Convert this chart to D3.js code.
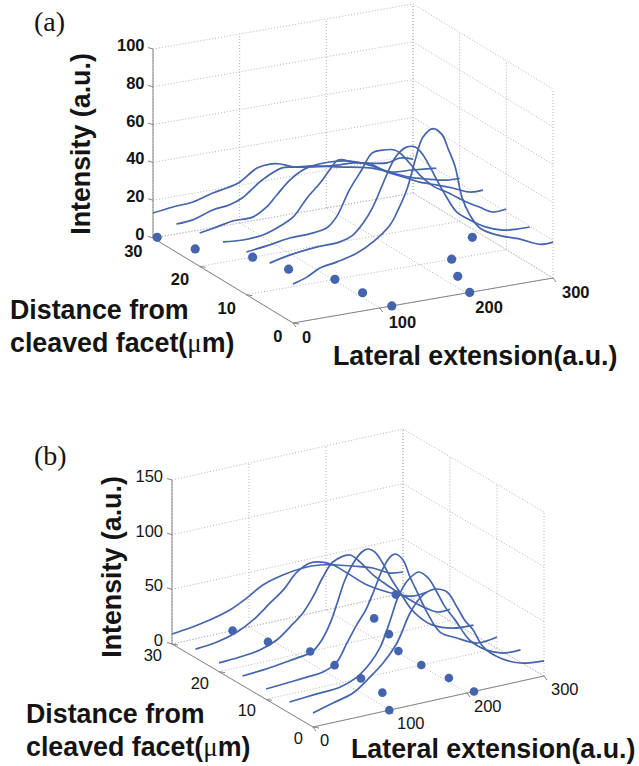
<!DOCTYPE html>
<html>
<head>
<meta charset="utf-8">
<script src="https://cdn.jsdelivr.net/npm/d3@7"></script>
<style>
  html, body { margin: 0; background: #fff; }
  text { font-family: "Liberation Sans", Arial, sans-serif; fill: #141414; }
</style>
</head>
<body>
<svg id="chart" width="639" height="766"></svg>
<script>
// Distance of each trace from the facet, back to front
const distances = [30, 25, 20, 15, 10, 5, 0];

// Panel (a): [lateral, intensity]
const a30 = [[0,13.2],[23,14.6],[46,15.4],[69,18.3],[85,19.7],[100,21.6],[120,27.5],[135,28.4],[147,27.5],[162,24.8],[185,22.9],[212,21.7],[231,21.4],[270,18.3],[285,19.7],[300,17.9]];
const a25 = [[0,14.9],[19,15.6],[42,19],[61,20.1],[76,22.6],[99,30.3],[122,34.9],[138,34],[157,33.2],[185,30.4],[223,26.9],[249,22.6],[272,21.9],[300,20.7]];
const a20 = [[0,17.6],[20,19.3],[38,21],[61,21.2],[77,25.2],[89,30.7],[104,37.4],[119,41.5],[129,42.8],[150,43.3],[173,42],[196,38],[219,32.5],[242,28],[262,25.4],[285,23],[300,22.8]];
const a15 = [[0,20.4],[23,19.6],[46,20.4],[66,23.6],[81,27.2],[97,36],[112,42.7],[123,48.7],[133,53.2],[150,50.8],[170,48.1],[189,42.4],[212,37.4],[227,34],[247,30.9],[265,27.9],[285,24.2],[300,24]];
const a10 = [[0,22.6],[27,24.2],[50,26],[73,26.4],[93,28],[104,32.9],[119,46],[133,55.4],[145,63.4],[157,64],[171,63],[180,59.6],[200,47.5],[217,39.8],[231,36],[254,28.9],[269,25],[284,21.2],[300,21.5]];
const a5 = [[0,24.2],[23,26.6],[55,28.4],[81,29],[96,31.4],[108,36.9],[119,44.4],[131,56.2],[139,64],[147,69.7],[158,73],[168,72.3],[177,67.4],[185,60.4],[196,50],[204,43],[216,34],[231,28.7],[250,23.4],[269,20.3],[285,19.6],[300,19.5]];
const a0 = [[0,20.6],[16,23],[31,26.6],[51,28.3],[74,31.2],[92,35.5],[112,43],[121,50],[132,61],[141,75],[150,86.5],[162,90],[172,86],[179,78],[187,68],[195,51],[204,41],[216,33],[235,28],[262,23.6],[285,19],[300,19]];
const aCurves = [a30, a25, a20, a15, a10, a5, a0];
const aDotsLeft = [[4.8,30],[21.8,25],[61.1,20],[75.7,15],[102.2,10],[107.2,5],[114,0]];
const aDotsRight = [[287.7,15],[236.9,10],[217,5],[203.9,0]];

// Panel (b)
const b30 = [[0,9.1],[23,11],[49,14.3],[75,19.4],[97,26.9],[118,35.6],[144,40.7],[170,43.1],[192,42.4],[214,39],[235,34.8],[261,28.9],[283,20.9],[300,19.2]];
const b25 = [[0,8],[28,10.1],[54,15.2],[75,23],[97,35.1],[114,44.4],[132,58],[149,63.6],[164,62.1],[179,57.1],[197,46.9],[223,31.9],[249,21.5],[266,16.1],[282,12.6],[300,13.4]];
const b20 = [[0,8],[27,9.2],[53,11.5],[75,17.3],[92,26.5],[109,36.8],[122,49.4],[135,65.6],[148,77.3],[170,80.3],[183,71.9],[200,57.4],[218,45.4],[244,29.5],[265,18],[283,10.6],[300,10.5]];
const b15 = [[0,8.7],[27,10.1],[53,12.4],[75,14.5],[90,16.6],[103,25.6],[114,39.5],[123,56.3],[133,75.8],[144,89.7],[155,98],[163,99.5],[172,95.3],[182,83.7],[194,66.3],[205,52.8],[218,37],[231,25.9],[247,16.8],[273,10],[300,8.6]];
const b10 = [[0,9.4],[27,10.7],[53,12.1],[74,13.4],[92,19.8],[105,35],[118,50],[129,61],[139,75.6],[151,94.9],[161,105.1],[168,106.8],[178,99.7],[187,82.8],[197,66.5],[209,47.3],[226,26.4],[248,17.5],[274,8.9],[300,10.3]];
const b5 = [[0,10.2],[31,11.9],[66,13.7],[88,19.5],[105,29.7],[118,42.3],[131,64.9],[141,84.3],[154,97.9],[168,103],[180,95.7],[192,80.1],[202,65.8],[215,51.9],[234,30.5],[256,17.9],[277,11.9],[300,11.3]];
const b0 = [[0,12.8],[26,17.9],[52,23],[74,34.2],[91,44.4],[109,59.9],[126,84.7],[139,96.4],[148,100.4],[158,101.6],[174,96.4],[187,80.7],[197,67.1],[208,56.4],[221,38.9],[243,25.3],[269,16.7],[300,13.9]];
const bCurves = [b30, b25, b20, b15, b10, b5, b0];
const bDotsLeft = [[78.7,30],[94.1,25],[118.4,20],[119.6,15],[123.3,10],[120.6,5],[99,0]];
const bDotsRight = [[290.7,30],[232,25],[220.6,20],[202.5,15],[201.7,10],[207,5],[209.1,0]];

const lateralTicks = [0, 100, 200, 300];
const distanceTicks = [0, 10, 20, 30];
const aIntensityTicks = [0, 20, 40, 60, 80, 100];
const bIntensityTicks = [0, 50, 100, 150];

const BLUE = "#4464ad";
const TITLE_SIZE = 26.8;
const svg = d3.select("#chart");

function drawPanel(p) {
  const g = svg.append("g");

  // the box is a flat oblique projection, so each axis only adds a pixel offset
  const xShiftX = d3.scaleLinear([0, 300], [0, p.xVec[0]]);
  const xShiftY = d3.scaleLinear([0, 300], [0, p.xVec[1]]);
  const yShiftX = d3.scaleLinear([0, 30], [0, p.yVec[0]]);
  const yShiftY = d3.scaleLinear([0, 30], [0, p.yVec[1]]);
  const zShift = d3.scaleLinear([0, p.zMax], [0, -p.zLen]);
  const project = (x, y, z) => [
    p.origin[0] + xShiftX(x) + yShiftX(y),
    p.origin[1] + xShiftY(x) + yShiftY(y) + zShift(z)
  ];

  const seg = (a, b, cls) => {
    const l = g.append("line")
      .attr("x1", a[0]).attr("y1", a[1])
      .attr("x2", b[0]).attr("y2", b[1]);
    if (cls === "grid") l.attr("stroke", "#b4b4b4").attr("stroke-width", 1).attr("stroke-dasharray", "1 2");
    else l.attr("stroke", "#858585").attr("stroke-width", 1);
  };

  // Grid on floor and the two back walls
  lateralTicks.forEach(x => {
    seg(project(x, 0, 0), project(x, 30, 0), "grid");
    seg(project(x, 30, 0), project(x, 30, p.zMax), "grid");
  });
  distanceTicks.forEach(y => {
    seg(project(0, y, 0), project(300, y, 0), "grid");
    seg(project(300, y, 0), project(300, y, p.zMax), "grid");
  });
  p.zTicks.forEach(z => {
    seg(project(0, 30, z), project(300, 30, z), "grid");
    seg(project(300, 30, z), project(300, 0, z), "grid");
  });

  // Solid axes and tick stubs
  seg(project(0, 0, 0), project(300, 0, 0));
  seg(project(0, 0, 0), project(0, 30, 0));
  seg(project(0, 30, 0), project(0, 30, p.zMax));
  p.zTicks.forEach(z => {
    const a = project(0, 30, z);
    seg(a, [a[0] - 5, a[1] - 1.5]);
    g.append("text").attr("x", a[0] + p.zLabel[0]).attr("y", a[1] + p.zLabel[1])
      .attr("text-anchor", "end").attr("font-size", p.tickSize).attr("font-weight", p.tickWeight)
      .text(z);
  });
  distanceTicks.forEach(y => {
    const a = project(0, y, 0);
    seg(a, [a[0] + 6, a[1] + 1]);
    g.append("text").attr("x", a[0] + p.yLabel[0]).attr("y", a[1] + p.yLabel[1])
      .attr("text-anchor", "end").attr("font-size", p.tickSize).attr("font-weight", p.tickWeight)
      .text(y);
  });
  lateralTicks.forEach(x => {
    const a = project(x, 0, 0);
    seg(a, [a[0] + 3, a[1] + 4]);
    g.append("text").attr("x", a[0] + p.xLabel[0]).attr("y", a[1] + p.xLabel[1])
      .attr("font-size", p.tickSize).attr("font-weight", p.tickWeight)
      .text(x);
  });

  // Traces
  const line = d3.line().curve(d3.curveCatmullRom.alpha(0.5));
  p.curves.forEach((c, i) => {
    g.append("path")
      .attr("d", line(c.map(d => project(d[0], distances[i], d[1]))))
      .attr("fill", "none").attr("stroke", BLUE).attr("stroke-width", 1.7);
  });

  // Peak position markers on the floor
  g.selectAll("circle").data(p.dots).join("circle")
    .attr("cx", d => project(d[0], d[1], 0)[0])
    .attr("cy", d => project(d[0], d[1], 0)[1])
    .attr("r", p.dotR).attr("fill", BLUE);

  // Titles
  g.append("text").attr("x", p.tag[0]).attr("y", p.tag[1])
    .style("font-family", "'Liberation Serif', serif").attr("font-size", 28).text(p.tagText);
  g.append("text")
    .attr("transform", `translate(${p.zTitle[0]},${p.zTitle[1]}) rotate(-90)`)
    .attr("text-anchor", "middle").attr("font-size", TITLE_SIZE).attr("font-weight", "bold")
    .text("Intensity (a.u.)");
  g.append("text").attr("x", p.yTitle[0]).attr("y", p.yTitle[1])
    .attr("font-size", TITLE_SIZE).attr("font-weight", "bold").text("Distance from");
  const second = g.append("text").attr("x", p.yTitle[0]).attr("y", p.yTitle[1] + 33)
    .attr("font-size", TITLE_SIZE).attr("font-weight", "bold");
  second.append("tspan").text("cleaved facet(");
  second.append("tspan").attr("font-weight", "normal").style("font-family", "'Liberation Serif', serif").text("\u03bc");
  second.append("tspan").text("m)");
  g.append("text").attr("x", p.xTitle[0]).attr("y", p.xTitle[1])
    .attr("font-size", TITLE_SIZE).attr("font-weight", "bold").text("Lateral extension(a.u.)");
}

drawPanel({
  origin: [293, 323], xVec: [260, -45], yVec: [-140, -85], zMax: 100, zLen: 189,
  zTicks: aIntensityTicks, curves: aCurves, dots: aDotsLeft.concat(aDotsRight), dotR: 4.6,
  tickSize: 16.5, tickWeight: "bold", zLabel: [-8.5, 2], yLabel: [-10.5, 19], xLabel: [9, 19.5],
  tag: [34, 31], tagText: "(a)", zTitle: [90, 144], yTitle: [10, 319], xTitle: [333, 365]
});

drawPanel({
  origin: [313, 727], xVec: [231, -51], yVec: [-141, -83], zMax: 150, zLen: 164,
  zTicks: bIntensityTicks, curves: bCurves, dots: bDotsLeft.concat(bDotsRight), dotR: 4.3,
  tickSize: 16.5, tickWeight: "normal", zLabel: [-9, 2], yLabel: [-10, 17], xLabel: [7, 19],
  tag: [34, 465], tagText: "(b)", zTitle: [120.5, 567], yTitle: [26, 723], xTitle: [351, 758]
});
</script>
</body>
</html>
